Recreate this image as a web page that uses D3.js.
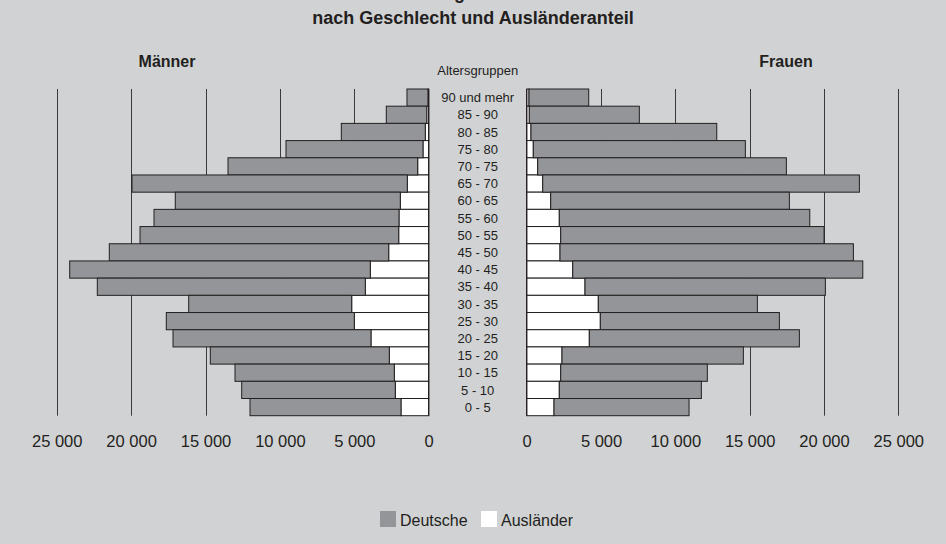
<!DOCTYPE html>
<html><head><meta charset="utf-8">
<script src="https://cdn.jsdelivr.net/npm/d3@7"></script>
<style>
html,body{margin:0;padding:0;background:#d1d2d4;}
svg{display:block;font-family:"Liberation Sans",Arial,sans-serif;}
</style></head>
<body><svg id="chart" width="946" height="544"></svg>
<script>
const ageGroups = ["90 und mehr","85 - 90","80 - 85","75 - 80","70 - 75","65 - 70","60 - 65","55 - 60","50 - 55","45 - 50","40 - 45","35 - 40","30 - 35","25 - 30","20 - 25","15 - 20","10 - 15","5 - 10","0 - 5"];
const menDeutsche   = [1410,2720,5645,9207,12748,18502,15122,16464,17384,18777,20201,18011,10954,12634,13306,12029,10705,10322,10147];
const menAuslaender = [50,130,228,383,740,1438,1908,1996,2016,2688,3925,4260,5175,5000,3878,2648,2312,2245,1862];
const womenDeutsche   = [4017,7402,12497,14267,16730,21305,16057,16850,17719,19738,19515,16171,10700,12046,14132,12201,9865,9556,9085];
const womenAuslaender = [155,175,289,444,740,1077,1615,2194,2288,2241,3096,3923,4818,4953,4213,2375,2288,2194,1837];
const tickValues = [0,5000,10000,15000,20000,25000];
const titleLines = ["Bevölkerung am 31.12.2011","nach Geschlecht und Ausländeranteil"];
const seriesNames = ["Deutsche","Ausländer"];

const svg = d3.select("#chart");
const W = 946, H = 544;
svg.append("rect").attr("width",W).attr("height",H).attr("fill","#d1d2d4");

const colDe = "#939598", colAus = "#ffffff", stroke = "#231f20";
const y = d3.scaleBand().domain(ageGroups).range([89,415.7]).padding(0);
const xL = d3.scaleLinear().domain([0,25000]).range([428.7,56.7]);
const xR = d3.scaleLinear().domain([0,25000]).range([526.7,898.3]);
const loc = d3.formatLocale({thousands:"\u00a0",grouping:[3],decimal:",",currency:["","€"]});
const fmt = loc.format(",");

// gridlines
[xL,xR].forEach(sc=>{
  svg.append("g").selectAll("line").data(tickValues.filter(d=>d>0)).join("line")
    .attr("x1",d=>Math.round(sc(d))+0.5).attr("x2",d=>Math.round(sc(d))+0.5)
    .attr("y1",y.range()[0]).attr("y2",y.range()[1])
    .attr("stroke","#3a3a3a").attr("stroke-width",1);
});

// bars
function side(sc, de, aus){
  const g = svg.append("g");
  const rows = ageGroups.map((a,i)=>({a, de:de[i], aus:aus[i]}));
  g.selectAll("rect.aus").data(rows).join("rect").attr("class","aus")
    .attr("x",d=>Math.min(sc(0),sc(d.aus))).attr("width",d=>Math.abs(sc(d.aus)-sc(0)))
    .attr("y",d=>y(d.a)).attr("height",y.bandwidth())
    .attr("fill",colAus).attr("stroke",stroke).attr("stroke-width",1);
  g.selectAll("rect.de").data(rows).join("rect").attr("class","de")
    .attr("x",d=>Math.min(sc(d.aus),sc(d.aus+d.de))).attr("width",d=>Math.abs(sc(d.aus+d.de)-sc(d.aus)))
    .attr("y",d=>y(d.a)).attr("height",y.bandwidth())
    .attr("fill",colDe).attr("stroke",stroke).attr("stroke-width",1);
  g.append("line").attr("x1",sc(0)).attr("x2",sc(0)).attr("y1",y.range()[0]).attr("y2",y.range()[1])
    .attr("stroke",stroke).attr("stroke-width",1.2);
}
side(xL, menDeutsche, menAuslaender);
side(xR, womenDeutsche, womenAuslaender);

// axes
[xL,xR].forEach(sc=>{
  const ax = svg.append("g").attr("transform","translate(0,432)")
    .call(d3.axisBottom(sc).tickValues(tickValues).tickFormat(fmt).tickSize(0));
  ax.select(".domain").remove();
  ax.selectAll("text").attr("font-size",16.5).attr("fill","#231f20")
    .attr("font-family","'Liberation Sans',Arial,sans-serif").attr("dy","0.71em");
});

// age labels
const cx = (xL(0)+xR(0))/2;
svg.append("g").selectAll("text").data(ageGroups).join("text")
  .attr("x",cx).attr("y",d=>y(d)+y.bandwidth()/2).attr("dy","0.36em")
  .attr("text-anchor","middle").attr("font-size",13).attr("fill","#231f20").text(d=>d);
svg.append("text").attr("x",cx).attr("y",75).attr("text-anchor","middle")
  .attr("font-size",13).attr("fill","#231f20").text("Altersgruppen");

// titles
svg.append("text").attr("x",473).attr("y",-1).attr("text-anchor","middle")
  .attr("font-size",18).attr("font-weight","bold").attr("fill","#231f20").text(titleLines[0]);
svg.append("text").attr("x",473).attr("y",24).attr("text-anchor","middle")
  .attr("font-size",18).attr("font-weight","bold").attr("fill","#231f20").text(titleLines[1]);
svg.append("text").attr("x",167).attr("y",67).attr("text-anchor","middle")
  .attr("font-size",16).attr("font-weight","bold").attr("fill","#231f20").text("Männer");
svg.append("text").attr("x",786).attr("y",67).attr("text-anchor","middle")
  .attr("font-size",16).attr("font-weight","bold").attr("fill","#231f20").text("Frauen");

// legend
const leg = svg.append("g");
const legItems = [{n:seriesNames[0],c:colDe,x:380},{n:seriesNames[1],c:colAus,x:481}];
leg.selectAll("rect").data(legItems).join("rect")
  .attr("x",d=>d.x).attr("y",511).attr("width",16).attr("height",16).attr("fill",d=>d.c);
leg.selectAll("text").data(legItems).join("text")
  .attr("x",d=>d.x+20).attr("y",526).attr("font-size",16).attr("fill","#231f20").text(d=>d.n);
</script></body></html>
